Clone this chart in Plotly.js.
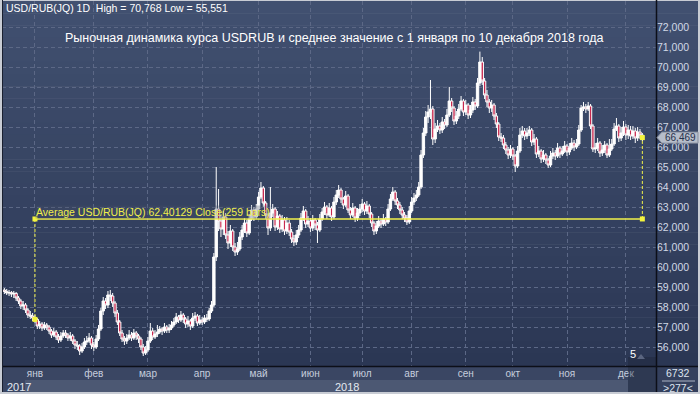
<!DOCTYPE html>
<html>
<head>
<meta charset="utf-8">
<script src="https://cdn.plot.ly/plotly-3.0.1.min.js"></script>
<style>html,body{margin:0;padding:0;background:#c8ccd4;}#chart{width:700px;height:394px;}</style>
</head>
<body>
<div id="chart"></div>
<script>
// ---- data (USD/RUB daily, mid-Dec 2017 .. 10 Dec 2018) ----
const openVals = [
58.85,58.78,58.70,58.72,58.65,58.68,58.45,58.30,58.05,58.10,
57.85,57.60,57.55,57.45,57.38,57.05,57.15,56.95,57.10,57.00,
56.80,56.60,56.75,56.50,56.35,56.55,56.70,56.60,56.45,56.55,
56.30,56.10,56.05,55.80,56.00,56.25,56.30,56.45,56.10,56.00,
56.40,56.90,57.80,58.30,58.10,58.60,58.55,58.20,57.70,57.25,
56.70,56.40,56.30,56.45,56.60,56.45,56.70,56.55,56.40,56.00,
55.70,55.85,56.30,56.80,56.50,56.65,56.75,56.90,56.80,57.00,
56.85,56.95,57.10,57.25,57.50,57.35,57.60,57.40,57.15,57.30,
57.05,57.45,57.55,57.20,57.35,57.25,57.45,57.40,57.80,58.10,
60.50,62.90,62.30,61.90,62.50,61.60,61.20,61.80,61.00,60.75,
60.90,61.50,61.85,62.20,61.70,62.40,62.85,62.50,62.90,63.50,
63.95,63.20,62.60,61.95,62.70,62.90,62.00,62.55,61.90,62.35,
61.80,62.20,61.75,61.40,61.25,61.60,61.85,62.45,62.80,62.15,
62.30,61.95,62.35,62.10,61.85,62.40,62.75,63.00,62.60,62.95,
62.50,63.25,63.60,63.85,63.40,63.10,63.55,62.85,62.60,62.95,
62.45,62.70,62.90,63.15,62.80,63.05,62.65,62.20,61.80,62.05,
62.30,62.15,62.40,62.25,62.90,63.40,63.75,63.30,63.10,62.85,
62.60,62.45,62.25,62.80,63.25,63.45,63.60,64.00,65.60,66.70,
67.50,67.75,67.90,66.40,66.90,67.05,66.85,67.25,67.10,67.60,
68.30,67.95,67.30,67.55,67.90,68.30,67.75,68.10,67.60,67.85,
68.25,68.05,69.20,70.25,69.30,68.60,68.25,67.95,68.10,67.55,
67.15,66.50,66.45,66.10,65.85,65.60,65.90,65.55,65.05,65.80,
66.60,66.80,66.55,66.70,66.85,66.25,66.40,65.65,65.80,65.40,
65.60,65.35,65.10,65.55,65.70,65.55,65.95,65.65,65.80,66.05,
65.75,65.95,66.20,66.00,66.15,66.85,67.95,68.00,67.90,68.05,
67.05,65.90,65.95,66.20,65.70,65.85,66.10,65.60,65.90,66.15,
66.90,67.05,66.45,66.70,67.00,66.60,66.85,66.55,66.80,66.45,
66.75,66.60
];
const highVals = [
58.95,58.90,58.85,58.80,58.80,58.75,58.55,58.40,58.30,58.20,
57.95,57.80,57.70,57.60,57.45,57.30,57.25,57.25,57.20,57.10,
56.90,56.95,56.85,56.65,56.75,56.85,56.85,56.70,56.75,56.65,
56.40,56.30,56.15,56.20,56.45,56.55,56.70,56.55,56.25,56.60,
57.10,57.95,58.50,58.45,58.80,58.85,58.70,58.30,57.85,57.35,
56.85,56.55,56.65,56.85,56.75,56.90,56.80,56.65,56.50,56.15,
56.05,56.50,57.20,56.95,56.85,57.10,57.05,57.00,57.20,57.10,
57.15,57.30,57.45,57.70,57.60,57.80,57.70,57.50,57.55,57.40,
57.70,57.75,57.65,57.60,57.50,57.60,57.65,57.95,58.30,60.70,
65.00,63.90,62.60,62.80,62.70,61.80,62.10,61.90,61.20,61.25,
61.75,62.10,62.45,62.35,62.65,63.10,63.00,63.15,63.75,64.25,
64.05,63.30,62.70,64.00,63.15,63.00,62.80,62.65,62.60,62.50,
62.50,62.35,61.90,61.60,61.85,62.10,62.70,63.05,62.90,62.55,
62.45,62.60,62.45,62.25,62.65,62.95,63.25,63.10,63.20,63.05,
63.50,63.85,64.10,63.95,63.50,63.80,63.65,63.00,63.20,63.05,
62.95,63.15,63.40,63.25,63.30,63.15,62.75,62.30,62.30,62.55,
62.45,62.65,62.50,63.15,63.65,64.00,63.85,63.45,63.25,63.00,
62.75,62.60,63.05,63.50,63.70,63.85,64.25,65.85,66.95,67.80,
68.10,69.35,68.05,67.20,67.35,67.20,67.50,67.40,67.90,69.00,
68.45,68.05,67.80,68.15,68.55,68.40,68.35,68.20,68.10,68.50,
68.40,69.45,70.77,70.50,69.45,68.85,68.40,68.35,68.20,67.70,
67.25,66.70,66.60,66.25,66.00,66.10,66.00,65.65,66.05,66.95,
67.05,66.95,66.95,67.05,66.95,66.65,66.50,66.05,65.90,65.85,
65.70,65.45,65.80,65.95,65.85,66.20,66.05,66.05,66.30,66.15,
66.20,66.45,66.35,66.40,67.10,68.10,68.25,68.15,68.25,68.15,
67.15,66.20,66.45,66.30,66.10,66.30,66.20,66.40,66.40,67.20,
67.45,67.15,67.00,67.30,67.15,67.10,67.05,67.05,66.95,67.00,
66.90,66.70
];
const lowVals = [
58.65,58.60,58.55,58.50,58.45,58.30,58.15,57.90,57.85,57.70,
57.45,57.40,57.30,57.20,56.90,56.90,56.80,56.85,56.85,56.65,
56.45,56.50,56.35,56.20,56.25,56.45,56.45,56.30,56.30,56.15,
55.90,55.85,55.60,55.70,55.90,56.10,56.20,55.90,55.80,55.90,
56.30,56.80,57.60,57.90,57.95,58.30,58.00,57.50,57.10,56.55,
56.25,56.10,56.15,56.35,56.30,56.35,56.35,56.20,55.85,55.55,
55.60,55.75,56.20,56.35,56.40,56.50,56.65,56.60,56.70,56.70,
56.70,56.85,57.00,57.15,57.20,57.25,57.20,56.95,57.00,56.85,
56.95,57.30,57.05,57.10,57.10,57.15,57.25,57.30,57.70,58.00,
60.30,61.80,61.50,61.60,61.40,60.90,61.00,60.80,60.55,60.60,
60.80,61.35,61.70,61.50,61.60,62.30,62.30,62.40,62.80,63.40,
63.00,62.40,61.60,61.80,62.50,61.80,61.85,61.70,61.75,61.60,
61.65,61.55,61.20,61.05,61.10,61.45,61.75,62.30,61.95,62.00,
61.75,61.80,61.85,61.20,61.75,62.30,62.60,62.40,62.50,62.30,
62.40,63.10,63.45,63.20,62.90,63.00,62.70,62.40,62.50,62.25,
62.30,62.55,62.75,62.60,62.65,62.45,62.00,61.60,61.65,61.95,
61.95,62.05,62.05,62.15,62.80,63.30,63.10,62.90,62.65,62.40,
62.25,62.10,62.15,62.70,63.10,63.30,63.50,63.90,65.45,66.55,
67.20,67.40,66.10,66.20,66.75,66.65,66.70,66.90,67.00,67.50,
67.75,67.10,67.15,67.40,67.80,67.55,67.60,67.40,67.45,67.70,
67.85,67.95,69.05,69.10,68.40,68.00,67.70,67.75,67.35,66.95,
66.30,66.25,65.90,65.65,65.40,65.45,65.35,64.75,64.95,65.70,
66.45,66.35,66.40,66.55,66.05,66.10,65.45,65.50,65.20,65.25,
65.15,64.95,65.00,65.40,65.35,65.45,65.45,65.55,65.70,65.55,
65.60,65.85,65.80,65.90,66.05,66.75,67.80,67.70,67.80,66.90,
65.75,65.70,65.80,65.50,65.55,65.70,65.45,65.50,65.80,66.05,
66.80,66.25,66.30,66.55,66.35,66.40,66.35,66.40,66.20,66.30,
66.40,66.30
];
const closeVals = [
58.78,58.70,58.72,58.65,58.68,58.45,58.30,58.05,58.10,57.85,
57.60,57.55,57.45,57.38,57.05,57.15,56.95,57.10,57.00,56.80,
56.60,56.75,56.50,56.35,56.55,56.70,56.60,56.45,56.55,56.30,
56.10,56.05,55.80,56.00,56.25,56.30,56.45,56.10,56.00,56.40,
56.90,57.80,58.30,58.10,58.60,58.55,58.20,57.70,57.25,56.70,
56.40,56.30,56.45,56.60,56.45,56.70,56.55,56.40,56.00,55.70,
55.85,56.30,56.80,56.50,56.65,56.75,56.90,56.80,57.00,56.85,
56.95,57.10,57.25,57.50,57.35,57.60,57.40,57.15,57.30,57.05,
57.45,57.55,57.20,57.35,57.25,57.45,57.40,57.80,58.10,60.50,
62.90,62.30,61.90,62.50,61.60,61.20,61.80,61.00,60.75,60.90,
61.50,61.85,62.20,61.70,62.40,62.85,62.50,62.90,63.50,63.95,
63.20,62.60,61.95,62.70,62.90,62.00,62.55,61.90,62.35,61.80,
62.20,61.75,61.40,61.25,61.60,61.85,62.45,62.80,62.15,62.30,
61.95,62.35,62.10,61.85,62.40,62.75,63.00,62.60,62.95,62.50,
63.25,63.60,63.85,63.40,63.10,63.55,62.85,62.60,62.95,62.45,
62.70,62.90,63.15,62.80,63.05,62.65,62.20,61.80,62.05,62.30,
62.15,62.40,62.25,62.90,63.40,63.75,63.30,63.10,62.85,62.60,
62.45,62.25,62.80,63.25,63.45,63.60,64.00,65.60,66.70,67.50,
67.75,67.90,66.40,66.90,67.05,66.85,67.25,67.10,67.60,68.30,
67.95,67.30,67.55,67.90,68.30,67.75,68.10,67.60,67.85,68.25,
68.05,69.20,70.25,69.30,68.60,68.25,67.95,68.10,67.55,67.15,
66.50,66.45,66.10,65.85,65.60,65.90,65.55,65.05,65.80,66.60,
66.80,66.55,66.70,66.85,66.25,66.40,65.65,65.80,65.40,65.60,
65.35,65.10,65.55,65.70,65.55,65.95,65.65,65.80,66.05,65.75,
65.95,66.20,66.00,66.15,66.85,67.95,68.00,67.90,68.05,67.05,
65.90,65.95,66.20,65.70,65.85,66.10,65.60,65.90,66.15,66.90,
67.05,66.45,66.70,67.00,66.60,66.85,66.55,66.80,66.45,66.75,
66.60,66.469
];
const monthLabels = ['янв','фев','мар','апр','май','июн','июл','авг','сен','окт','ноя','дек'];
const monthStartBars = [13,38,61,84,108,130,152,173,196,216,239,264];
const yearLabels = ['2017','2018'];
const priceTicks = [56,57,58,59,60,61,62,63,64,65,66,67,68,69,70,71,72];
const priceTickText = ['56,000','57,000','58,000','59,000','60,000','61,000','62,000','63,000','64,000','65,000','66,000','67,000','68,000','69,000','70,000','71,000','72,000'];
const avgValue = 62.40129;
const avgStartBar = 13;
const headerText = 'USD/RUB(JQ) 1D  High = 70,768 Low = 55,551';
const titleText = 'Рыночная динамика курса USDRUB и среднее значение с 1 января по 10 декабря 2018 года';
const avgText = 'Average USD/RUB(JQ) 62,40129 Close(259 bars)';
const lastPriceText = '66,469';
const barCountText = '6732';
const visibleBarsText = '>277<';
const offsetText = '5';

// ---- layout helpers (pixel -> paper) ----
const PL = 2, PW = 654, PB = 366, PH = 365;
const px = v => (v - PL) / PW;
const py = v => (PB - v) / PH;

const barIdx = closeVals.map((_, i) => i);
const lastBar = closeVals.length - 1;
const lastClose = closeVals[lastBar];

const shapes = [];
// gradient background (plot + right scale)
const gradTop = [65, 80, 112], gradBot = [43, 55, 84];
const nBands = 30;
for (let k = 0; k < nBands; k++) {
  const t = k / (nBands - 1);
  const c = gradTop.map((a, j) => Math.round(a + (gradBot[j] - a) * t));
  shapes.push({type:'rect', xref:'paper', yref:'paper', layer:'below',
    x0: px(2), x1: px(698), y0: py(1 + 365 * (k + 1) / nBands + 0.5), y1: py(1 + 365 * k / nBands),
    fillcolor: `rgb(${c[0]},${c[1]},${c[2]})`, line:{width:0}});
}
// bottom time-scale rows
shapes.push({type:'rect', xref:'paper', yref:'paper', layer:'below', x0:px(2), x1:px(656), y0:py(392), y1:py(366), fillcolor:'#3a4663', line:{width:0}});
shapes.push({type:'rect', xref:'paper', yref:'paper', layer:'below', x0:px(25), x1:px(628), y0:py(392), y1:py(380), fillcolor:'#4c5873', line:{width:0}});
shapes.push({type:'rect', xref:'paper', yref:'paper', layer:'below', x0:px(656), x1:px(698), y0:py(392), y1:py(366), fillcolor:'#34405d', line:{width:0}});
shapes.push({type:'rect', xref:'paper', yref:'paper', layer:'above', x0:px(628), x1:px(656), y0:py(392), y1:py(357), fillcolor:'rgba(25,33,52,0.35)', line:{width:0}});
// separators
shapes.push({type:'line', xref:'paper', yref:'paper', layer:'above', x0:px(656.5), x1:px(656.5), y0:py(392), y1:py(0), line:{color:'#0c0f18', width:1.5}});
shapes.push({type:'line', xref:'paper', yref:'paper', layer:'above', x0:px(2), x1:px(698), y0:py(366.5), y1:py(366.5), line:{color:'#0c0f18', width:1.5}});
shapes.push({type:'line', xref:'paper', yref:'paper', layer:'above', x0:px(2.5), x1:px(2.5), y0:py(392), y1:py(0), line:{color:'#1a2030', width:1}});
shapes.push({type:'line', xref:'paper', yref:'paper', layer:'above', x0:px(662), x1:px(695), y0:py(381), y1:py(381), line:{color:'#aab2c4', width:1}});
// small triangle near offset label
shapes.push({type:'path', xref:'paper', yref:'paper', layer:'above',
  path:`M ${px(637)} ${py(359)} L ${px(645)} ${py(359)} L ${px(641)} ${py(354)} Z`, fillcolor:'#5a6580', line:{width:0}});
// average line and connectors
shapes.push({type:'line', xref:'x', yref:'y', x0:avgStartBar, x1:lastBar, y0:avgValue, y1:avgValue, line:{color:'#f2f24a', width:1.5}});
shapes.push({type:'line', xref:'x', yref:'y', x0:avgStartBar, x1:avgStartBar, y0:avgValue, y1:closeVals[avgStartBar], line:{color:'#f2f24a', width:1, dash:'3px,2px'}});
shapes.push({type:'line', xref:'x', yref:'y', x0:lastBar, x1:lastBar, y0:avgValue, y1:lastClose, line:{color:'#f2f24a', width:1, dash:'3px,2px'}});
// last price tag
const tagH = 5.5 / 20;
shapes.push({type:'path', xref:'paper', yref:'y', layer:'above',
  path:`M ${px(657)} ${lastClose} L ${px(662)} ${lastClose + tagH} L ${px(698)} ${lastClose + tagH} L ${px(698)} ${lastClose - tagH} L ${px(662)} ${lastClose - tagH} Z`,
  fillcolor:'#b6bdca', line:{color:'#8890a0', width:1}});

const FONT = 'Liberation Sans, Arial, sans-serif';
const annotations = [
  {xref:'paper', yref:'paper', x:px(4), y:py(8), xanchor:'left', yanchor:'middle', text:headerText, showarrow:false, font:{family:FONT, size:10.5, color:'#ffffff'}},
  {xref:'paper', yref:'paper', x:px(334), y:py(38), xanchor:'center', yanchor:'middle', text:titleText, showarrow:false, font:{family:FONT, size:12.5, color:'#ffffff'}},
  {xref:'x', yref:'y', x:avgStartBar, y:avgValue, xanchor:'left', yanchor:'bottom', xshift:0, yshift:0, text:avgText, showarrow:false, bgcolor:'rgba(70,80,104,0.3)', borderpad:0, font:{family:FONT, size:10.5, color:'#f0f04a'}},
  {xref:'paper', yref:'y', x:px(680), y:lastClose, xanchor:'center', yanchor:'middle', text:lastPriceText, showarrow:false, borderpad:0, font:{family:FONT, size:10, color:'#27304a'}},
  {xref:'paper', yref:'paper', x:px(633), y:py(354), xanchor:'center', yanchor:'middle', text:offsetText, showarrow:false, font:{family:FONT, size:11, color:'#ffffff'}},
  {xref:'paper', yref:'paper', x:px(678), y:py(373), xanchor:'center', yanchor:'middle', text:barCountText, showarrow:false, font:{family:FONT, size:10.5, color:'#dde3ee'}},
  {xref:'paper', yref:'paper', x:px(678), y:py(388), xanchor:'center', yanchor:'middle', text:visibleBarsText, showarrow:false, font:{family:FONT, size:10.5, color:'#dde3ee'}},
  {xref:'paper', yref:'paper', x:px(5), y:py(386.5), xanchor:'left', yanchor:'middle', text:yearLabels[0], showarrow:false, font:{family:FONT, size:11, color:'#e4e8f0'}},
  {xref:'paper', yref:'paper', x:px(347), y:py(386.5), xanchor:'center', yanchor:'middle', text:yearLabels[1], showarrow:false, font:{family:FONT, size:11, color:'#e4e8f0'}}
];

const traces = [
  {type:'candlestick', x:barIdx, open:openVals, high:highVals, low:lowVals, close:closeVals,
   increasing:{line:{color:'#ffffff', width:1}, fillcolor:'#ffffff'},
   decreasing:{line:{color:'#ffffff', width:1}, fillcolor:'#c8284e'},
   whiskerwidth:0, hoverinfo:'skip', showlegend:false},
  {type:'scatter', mode:'markers', x:[avgStartBar, avgStartBar, lastBar, lastBar],
   y:[avgValue, closeVals[avgStartBar], avgValue, lastClose],
   marker:{symbol:'square', size:5, color:'#f4f43c', line:{width:0}}, hoverinfo:'skip', showlegend:false, cliponaxis:false}
];

const layout = {
  width:700, height:394,
  margin:{l:PL, r:700 - PL - PW, t:1, b:394 - PB},
  paper_bgcolor:'#c8ccd4', plot_bgcolor:'rgba(0,0,0,0)',
  showlegend:false, hovermode:false,
  boxgap:0, boxgroupgap:0,
  xaxis:{range:[-1.0, 276.8], tickmode:'array', tickvals:monthStartBars, ticktext:monthLabels,
    showgrid:true, gridcolor:'#5c6886', griddash:'4px,3px', gridwidth:1, zeroline:false, showline:false,
    ticks:'', tickfont:{family:FONT, size:10, color:'#c6cede'}, rangeslider:{visible:false}, fixedrange:true, ticklabelstandoff:0},
  yaxis:{range:[55.05, 73.3], side:'right', tickmode:'array', tickvals:priceTicks, ticktext:priceTickText,
    showgrid:true, gridcolor:'#5c6886', griddash:'4px,3px', gridwidth:1, zeroline:false, showline:false,
    ticks:'', tickfont:{family:FONT, size:10.5, color:'#d2d9e6'}, fixedrange:true},
  shapes:shapes, annotations:annotations
};

Plotly.newPlot('chart', traces, layout, {displayModeBar:false, staticPlot:true});
</script>
</body>
</html>
